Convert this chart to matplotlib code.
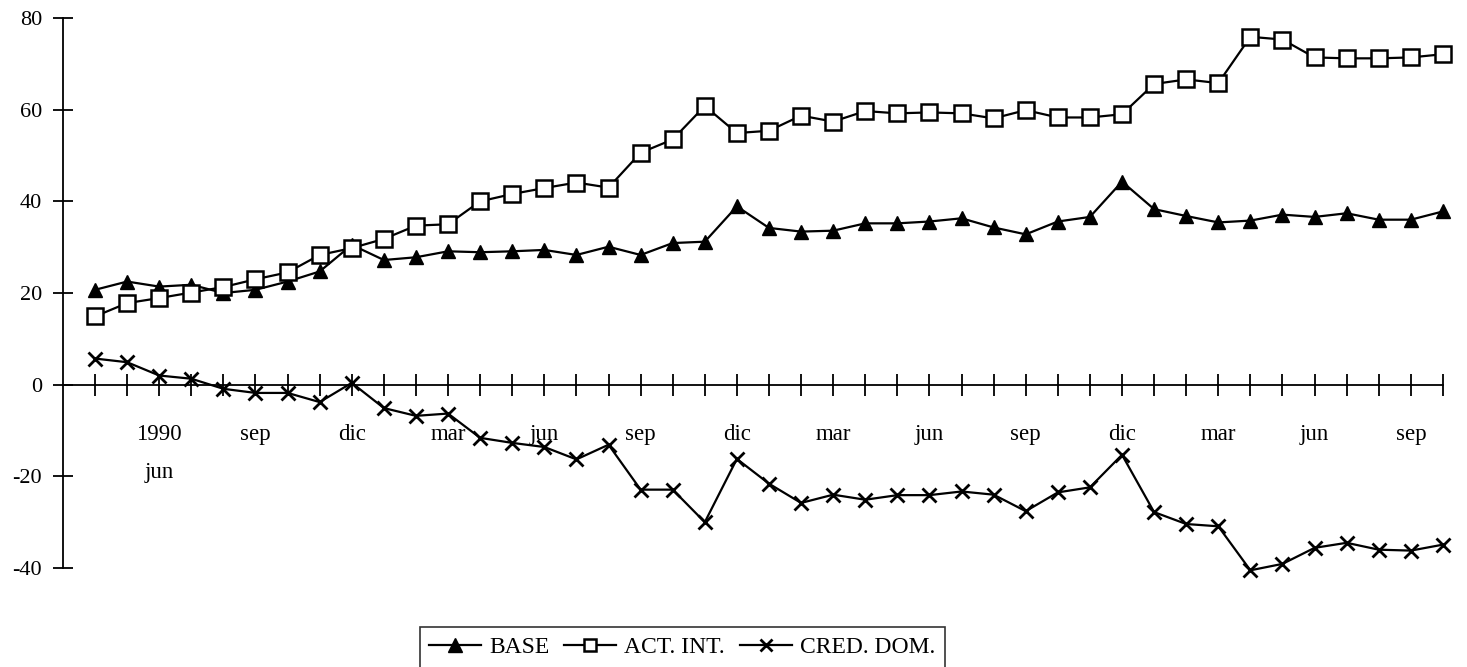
import numpy as np
import matplotlib.pyplot as plt

plt.rcParams['font.family'] = ['Liberation Serif', 'DejaVu Serif']
plt.rcParams['axes.unicode_minus'] = False

# monthly data, apr 1990 .. oct 1993
base = [20.7, 22.5, 21.4, 21.8, 20.0, 20.7, 22.5, 24.7, 30.5, 27.2, 27.8, 29.1, 28.9,
        29.1, 29.4, 28.3, 30.1, 28.3, 30.9, 31.2, 38.9, 34.2, 33.4, 33.6, 35.2, 35.2,
        35.6, 36.3, 34.3, 32.8, 35.6, 36.6, 44.3, 38.3, 36.8, 35.4, 35.8, 37.1, 36.6,
        37.4, 36.0, 36.0, 37.8]
act_int = [14.9, 17.8, 18.9, 20.1, 21.3, 23.0, 24.5, 28.3, 29.8, 31.8, 34.7, 35.0, 40.0,
           41.6, 42.9, 44.1, 43.0, 50.6, 53.5, 60.8, 54.9, 55.4, 58.7, 57.4, 59.7, 59.2,
           59.4, 59.2, 58.1, 59.9, 58.3, 58.3, 59.0, 65.6, 66.6, 65.8, 75.9, 75.3, 71.4,
           71.2, 71.2, 71.4, 72.1]
cred_dom = [5.7, 4.9, 2.0, 1.3, -0.9, -1.8, -1.8, -3.8, 0.4, -5.1, -6.8, -6.3, -11.6,
            -12.7, -13.6, -16.3, -13.1, -22.9, -22.9, -30.0, -16.2, -21.6, -25.8, -24.0,
            -25.1, -24.1, -24.1, -23.3, -24.0, -27.6, -23.5, -22.4, -15.3, -27.8, -30.4,
            -30.9, -40.5, -39.1, -35.6, -34.5, -36.0, -36.2, -34.9]
month_labels = ['', '', '1990\njun', '', '', 'sep', '', '', 'dic', '', '', 'mar', '', '',
                'jun', '', '', 'sep', '', '', 'dic', '', '', 'mar', '', '', 'jun', '', '',
                'sep', '', '', 'dic', '', '', 'mar', '', '', 'jun', '', '', 'sep', '']

x = np.arange(len(base))

fig = plt.figure(figsize=(14.67, 6.67), dpi=100)
ax = fig.add_axes([0.0429, 0.1484, 0.9407, 0.8246])

ax.plot(x, base, color='black', lw=1.6, marker='^', markersize=10, clip_on=False, label='BASE')
ax.plot(x, act_int, color='black', lw=1.6, marker='s', markersize=12, clip_on=False,
        markerfacecolor='white', markeredgewidth=1.8, label='ACT. INT.')
ax.plot(x, cred_dom, color='black', lw=1.6, marker='x', markersize=10, clip_on=False,
        markeredgewidth=2, label='CRED. DOM.')

# spine position first: it resets the tick objects
for s in ['top', 'right']:
    ax.spines[s].set_visible(False)
ax.spines['bottom'].set_position(('data', 0))
ax.spines['bottom'].set_linewidth(1.3)
ax.spines['left'].set_linewidth(1.3)

ax.set_xlim(-1, 42)
ax.set_ylim(-40, 80)
ax.set_yticks([-40, -20, 0, 20, 40, 60, 80])
ax.set_xticks(x)
ax.set_xticklabels(month_labels)

ax.tick_params(axis='x', direction='inout', length=16, width=1.3, pad=20, labelsize=16.5)
ax.tick_params(axis='y', direction='inout', length=14, width=1.3, pad=8, labelsize=16)
for t in ax.get_xticklabels():
    t.set_linespacing(2.1)

leg = ax.legend(loc='center', bbox_to_anchor=(0.465, 0.029), bbox_transform=fig.transFigure,
                ncol=3, fontsize=17, frameon=True, fancybox=False, handlelength=2.2,
                handletextpad=0.34, columnspacing=0.64, borderpad=0.4)
leg.get_frame().set_edgecolor('black')
leg.get_frame().set_linewidth(1.2)
for h, ms in zip(leg.legend_handles, [10, 9, 8]):
    h.set_markersize(ms)

fig.savefig('out.png', dpi=100)
